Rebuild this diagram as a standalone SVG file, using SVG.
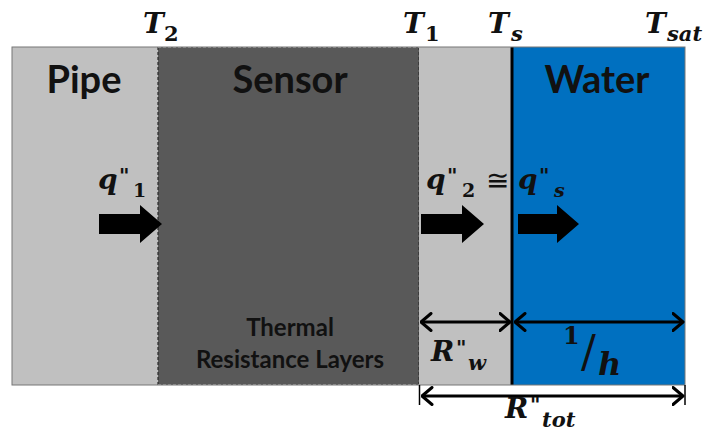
<svg xmlns="http://www.w3.org/2000/svg" width="706" height="433" viewBox="0 0 706 433">
<defs>
<style>
.lbl{font-family:Lato,"Open Sans","Liberation Sans",sans-serif;font-weight:bold;fill:#111}
.m{font-family:"DejaVu Serif","Liberation Serif",serif;font-weight:bold;font-style:italic;fill:#111}
.n{font-style:normal}
.dim{stroke:#000;stroke-width:3;fill:none}
.bigarrow{fill:#000}
</style>
<marker id="head" viewBox="0 0 13 20" refX="11.5" refY="10" markerWidth="13" markerHeight="20" markerUnits="userSpaceOnUse" orient="auto-start-reverse">
<path d="M1.5,1.5 L11.5,10 L1.5,18.5" fill="none" stroke="#000" stroke-width="3" stroke-linecap="round" stroke-linejoin="round"/>
</marker>
</defs>
<rect width="706" height="433" fill="#fff"/>
<g id="pipe">
<rect x="12" y="47" width="146" height="338" fill="#c0c0c0"/>
<text class="lbl" x="84" y="93" font-size="38" text-anchor="middle">Pipe</text>
</g>
<g id="sensor">
<rect x="158" y="47" width="261" height="338" fill="#595959"/>
<line x1="158" y1="47" x2="158" y2="385" stroke="#2a2a2a" stroke-width="1.2" stroke-dasharray="3,2"/>
<line x1="419" y1="47" x2="419" y2="385" stroke="#2a2a2a" stroke-width="1.2" stroke-dasharray="3,2"/>
<line x1="158" y1="47.5" x2="419" y2="47.5" stroke="#999" stroke-width="1" stroke-dasharray="3,2"/>
<line x1="158" y1="384.5" x2="419" y2="384.5" stroke="#999" stroke-width="1" stroke-dasharray="3,2"/>
<text class="lbl" x="290" y="93" font-size="38" text-anchor="middle">Sensor</text>
<text class="lbl" x="290" y="336" font-size="24" text-anchor="middle">Thermal</text>
<text class="lbl" x="290" y="368" font-size="24" text-anchor="middle">Resistance Layers</text>
</g>
<g id="wall">
<rect x="419" y="47" width="93" height="338" fill="#c0c0c0"/>
</g>
<g id="water">
<rect x="512" y="47" width="173" height="338" fill="#0070c0"/>
<line x1="512" y1="47" x2="512" y2="385" stroke="#000" stroke-width="3"/>
<text class="lbl" x="597" y="93" font-size="38" text-anchor="middle" fill="#0b1a2e">Water</text>
</g>
<rect x="12" y="47" width="673" height="338" fill="none" stroke="#777" stroke-width="1"/>
<g id="temps">
<text class="m" x="143" y="33" font-size="28">T</text><text class="m n" x="164" y="41" font-size="21">2</text>
<text class="m" x="403" y="33" font-size="28">T</text><text class="m n" x="425" y="41" font-size="21">1</text>
<text class="m" x="488" y="33" font-size="28">T</text><text class="m" x="511" y="41" font-size="21">s</text>
<text class="m" x="645" y="33" font-size="28">T</text><text class="m" x="667" y="41" font-size="21">sat</text>
</g>
<g id="fluxes">
<text class="m" x="98" y="189" font-size="28">q</text><text class="m n" x="119" y="183" font-size="20">"</text><text class="m n" x="133" y="197" font-size="19">1</text>
<text class="m" x="426" y="189" font-size="28">q</text><text class="m n" x="447" y="183" font-size="20">"</text><text class="m n" x="462" y="197" font-size="19">2</text>
<text x="486" y="190" font-size="28" font-family="DejaVu Sans, sans-serif" fill="#111">≅</text>
<text class="m" x="518" y="189" font-size="28">q</text><text class="m n" x="539" y="183" font-size="20">"</text><text class="m" x="554" y="197" font-size="19">s</text>
<path class="bigarrow" d="M99,214 H140 V205 L162,224 L140,243 V234 H99 Z"/>
<path class="bigarrow" d="M421,214 H462 V205 L484,224 L462,243 V234 H421 Z"/>
<path class="bigarrow" d="M518,214 H557 V205 L579,224 L557,243 V234 H518 Z"/>
</g>
<g id="connectors">
<line class="dim" x1="421" y1="322" x2="510" y2="322" marker-start="url(#head)" marker-end="url(#head)"/>
<line class="dim" x1="515" y1="322" x2="683" y2="322" marker-start="url(#head)" marker-end="url(#head)"/>
<line class="dim" x1="422" y1="396" x2="683" y2="396" marker-start="url(#head)" marker-end="url(#head)"/>
<line x1="419.5" y1="385" x2="419.5" y2="405" stroke="#000" stroke-width="1.5"/>
<line x1="685" y1="385" x2="685" y2="405" stroke="#000" stroke-width="1.5"/>
</g>
<g id="resist">
<text class="m" x="431" y="361" font-size="28">R</text><text class="m n" x="456" y="355" font-size="20">"</text><text class="m" x="468" y="370" font-size="21">w</text>
<text x="563" y="344" font-size="24" font-family="DejaVu Serif, serif" font-weight="bold" fill="#111">1</text>
<text x="581" y="367" font-size="44" font-family="DejaVu Serif, serif" fill="#111">/</text>
<text class="m" x="598" y="375" font-size="32">h</text>
<text class="m" x="505" y="418" font-size="28">R</text><text class="m n" x="530" y="412" font-size="20">"</text><text class="m" x="542" y="427" font-size="21">tot</text>
</g>
</svg>
